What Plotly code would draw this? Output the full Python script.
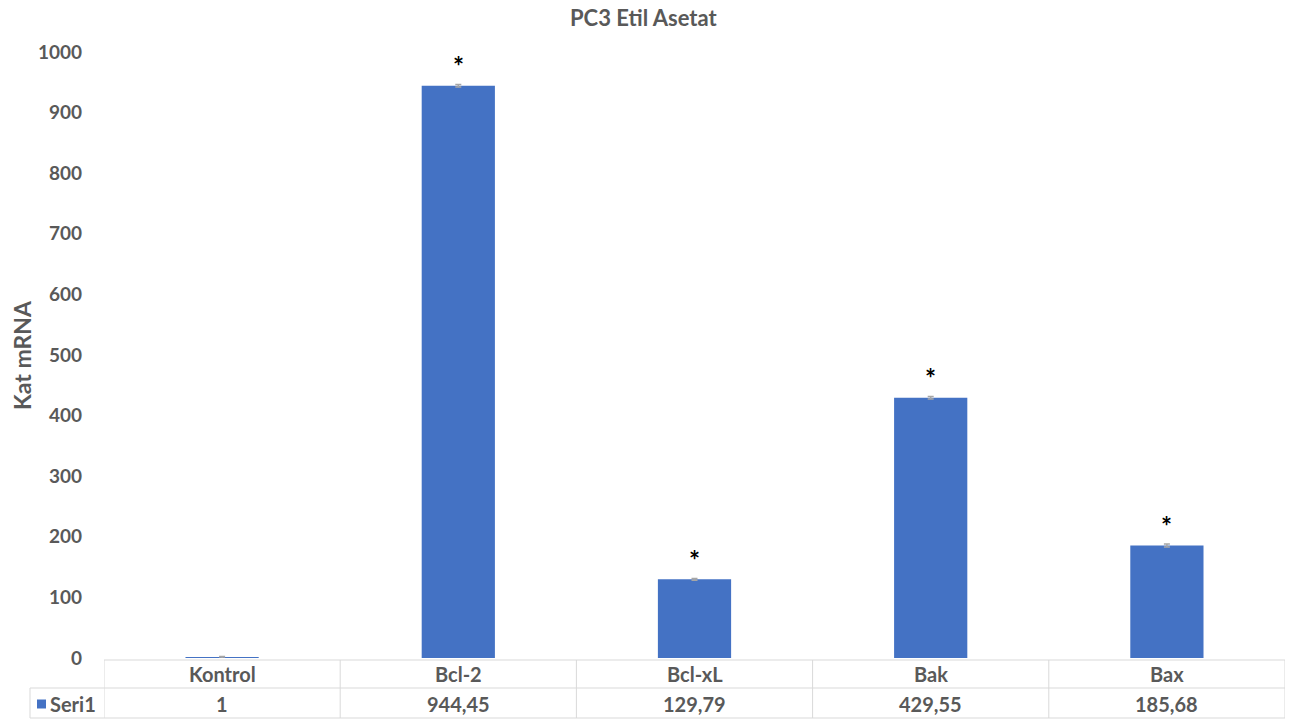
import plotly.graph_objects as go

# Data
categories = ["Kontrol", "Bcl-2", "Bcl-xL", "Bak", "Bax"]
values = [1, 944.45, 129.79, 429.55, 185.68]
value_labels = ["1", "944,45", "129,79", "429,55", "185,68"]
errors = [1.5, 2.0, 1.5, 2.0, 2.5]
significant = [False, True, True, True, True]
series_name = "Seri1"
y_ticks = [0, 100, 200, 300, 400, 500, 600, 700, 800, 900, 1000]

BAR_COLOR = "#4472C4"
TEXT_COLOR = "#595959"
GRID_COLOR = "#D9D9D9"
FONT = "Lato, 'Open Sans', sans-serif"

W, H = 1300, 724
L, R, T, B = 104, 15, 52, 66
plot_h = H - T - B
plot_w = W - L - R


def py(pixel_y):
    """Convert a page pixel row to paper y."""
    return (H - B - pixel_y) / plot_h


def px(pixel_x):
    """Convert a page pixel column to paper x."""
    return (pixel_x - L) / plot_w


x_idx = list(range(len(categories)))

fig = go.Figure()
fig.add_trace(go.Bar(
    x=x_idx,
    y=values,
    name=series_name,
    marker=dict(color=BAR_COLOR, line=dict(width=0)),
    width=0.31,
    error_y=dict(type="data", array=errors, visible=True,
                 color="#A6A6A6", thickness=1.5, width=3),
    showlegend=False,
))

annotations = []
# significance stars
for i, (v, e, s) in enumerate(zip(values, errors, significant)):
    if s:
        annotations.append(dict(
            x=i, y=v + e, xref="x", yref="y", text="<b>*</b>", showarrow=False,
            yanchor="bottom", yshift=0,
            font=dict(family=FONT, size=26, color="#000000"),
        ))

# data table: header row and value row
row1_c, row2_c = 674, 704
for i, (c, lab) in enumerate(zip(categories, value_labels)):
    annotations.append(dict(
        x=i, y=py(row1_c), xref="x", yref="paper", text=f"<b>{c}</b>",
        showarrow=False, yanchor="middle",
        font=dict(family=FONT, size=20, color=TEXT_COLOR),
    ))
    annotations.append(dict(
        x=i, y=py(row2_c), xref="x", yref="paper", text=f"<b>{lab}</b>",
        showarrow=False, yanchor="middle",
        font=dict(family=FONT, size=20, color=TEXT_COLOR),
    ))
annotations.append(dict(
    x=px(48), y=py(row2_c), xref="paper", yref="paper",
    text=f"<b>{series_name}</b>", showarrow=False, xanchor="left",
    yanchor="middle", font=dict(family=FONT, size=20, color=TEXT_COLOR),
))

# title and axis title
annotations.append(dict(
    x=px(644), y=py(17), xref="paper", yref="paper",
    text="<b>PC3 Etil Asetat</b>", showarrow=False, yanchor="middle",
    font=dict(family=FONT, size=22, color=TEXT_COLOR),
))
annotations.append(dict(
    x=px(22), y=py(355), xref="paper", yref="paper", text="<b>Kat mRNA</b>",
    showarrow=False, textangle=-90, xanchor="center", yanchor="middle",
    font=dict(family=FONT, size=23, color=TEXT_COLOR),
))

shapes = []
line = dict(color=GRID_COLOR, width=1)
top, mid, bot = py(660), py(688), py(718)
# horizontal table rules
shapes.append(dict(type="line", xref="paper", yref="paper", x0=0, x1=1,
                   y0=top, y1=top, line=line))
shapes.append(dict(type="line", xref="paper", yref="paper", x0=px(30), x1=1,
                   y0=mid, y1=mid, line=line))
shapes.append(dict(type="line", xref="paper", yref="paper", x0=px(30), x1=1,
                   y0=bot, y1=bot, line=line))
# vertical table rules
for k in range(len(categories) + 1):
    xb = k - 0.5
    shapes.append(dict(type="line", xref="x", yref="paper", x0=xb, x1=xb,
                       y0=top, y1=bot, line=line))
shapes.append(dict(type="line", xref="paper", yref="paper", x0=px(30), x1=px(30),
                   y0=mid, y1=bot, line=line))
# legend key square
shapes.append(dict(type="rect", xref="paper", yref="paper",
                   x0=px(37), x1=px(46), y0=py(708.5), y1=py(699.5),
                   fillcolor=BAR_COLOR, line=dict(width=0)))

fig.update_layout(
    width=W, height=H,
    margin=dict(l=L, r=R, t=T, b=B),
    paper_bgcolor="white", plot_bgcolor="white",
    bargap=0.69,
    xaxis=dict(range=[-0.5, len(categories) - 0.5], showticklabels=False,
               showgrid=False, zeroline=False, showline=False, ticks=""),
    yaxis=dict(range=[0, 1000], tickvals=y_ticks,
               ticktext=[f"<b>{t}</b>" for t in y_ticks],
               tickfont=dict(family=FONT, size=19, color=TEXT_COLOR),
               showgrid=False, zeroline=False, showline=False, ticks="",
               ticklabelstandoff=21),
    annotations=annotations,
    shapes=shapes,
)

fig.write_html("out.html")
